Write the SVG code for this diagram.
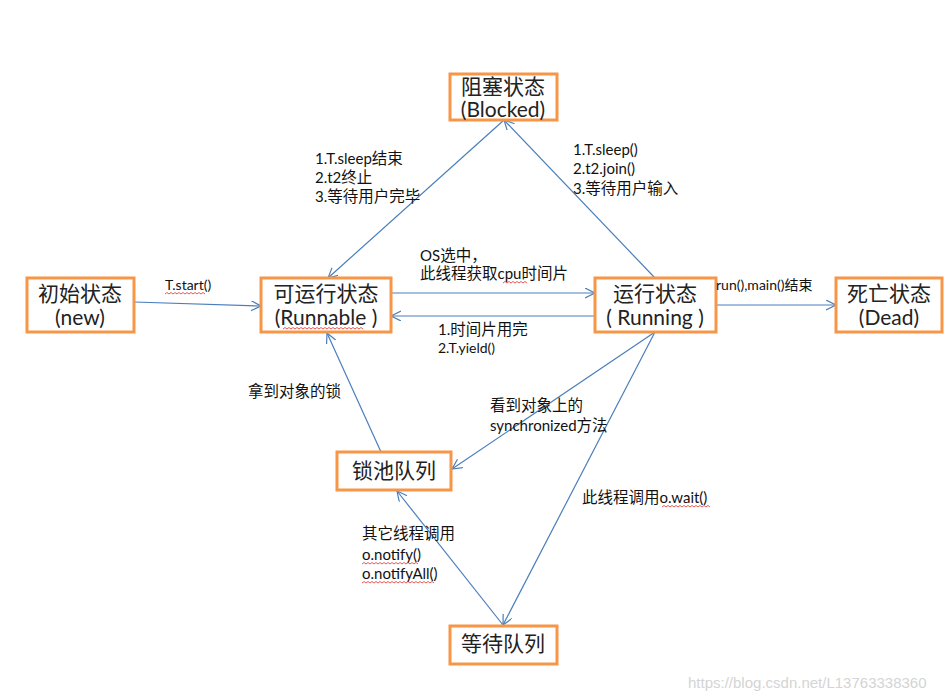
<svg xmlns="http://www.w3.org/2000/svg" width="949" height="700" viewBox="0 0 949 700">
<defs>
<style>
.box{fill:#fff;stroke:#F79646;stroke-width:3}
.nt{font-family:Lato,"Noto Sans CJK SC",sans-serif;font-size:21px;fill:#222;text-anchor:middle}
.lb{font-family:Lato,"Noto Sans CJK SC",sans-serif;font-size:15.5px;fill:#111}
.sm{font-size:14px}
.l{font-size:15px}
.ln{fill:none;stroke:#4A7EBB;stroke-width:1.2;marker-end:url(#ah)}
.sq{fill:none;stroke:#E03030;stroke-width:0.8}
.wm{font-family:"Liberation Sans",sans-serif;font-size:15px;fill:#d4d4d4}
</style>
<marker id="ah" markerUnits="userSpaceOnUse" markerWidth="12" markerHeight="12" refX="10" refY="5" orient="auto" viewBox="0 0 12 12">
<path d="M0,0 L10,5 L0,10" fill="none" stroke="#4A7EBB" stroke-width="1.2"/>
</marker>
</defs>
<rect width="949" height="700" fill="#fff"/>
<g id="connectors">
<path class="ln" d="M134,302 L261,306"/>
<path class="ln" d="M391,293 L595,293"/>
<path class="ln" d="M595,316 L391,316"/>
<path class="ln" d="M716,305 L836,305"/>
<path class="ln" d="M504,120 L328,278"/>
<path class="ln" d="M655,278 L504,120"/>
<path class="ln" d="M381,452 L327,333"/>
<path class="ln" d="M655,332 L452,469"/>
<path class="ln" d="M655,332 L503,625"/>
<path class="ln" d="M503,625 L397,491"/>
</g>
<g id="blocked"><rect class="box" x="450" y="74" width="107" height="46"/><text class="nt" x="503" y="94">阻塞状态</text><text class="nt" x="503" y="117">(Blocked)</text></g>
<g id="new"><rect class="box" x="27" y="278" width="107" height="54"/><text class="nt" x="80" y="301">初始状态</text><text class="nt" x="80" y="325">(new)</text></g>
<g id="runnable"><rect class="box" x="261" y="278" width="130" height="54"/><text class="nt" x="326" y="301">可运行状态</text><text class="nt" x="326" y="325">(Runnable )</text></g>
<g id="running"><rect class="box" x="595" y="278" width="121" height="54"/><text class="nt" x="655" y="301">运行状态</text><text class="nt" x="655" y="325">( Running )</text></g>
<g id="dead"><rect class="box" x="836" y="278" width="106" height="54"/><text class="nt" x="889" y="301">死亡状态</text><text class="nt" x="889" y="325">(Dead)</text></g>
<g id="lockpool"><rect class="box" x="337" y="452" width="114" height="38"/><text class="nt" x="394" y="478">锁池队列</text></g>
<g id="waitqueue"><rect class="box" x="450" y="626" width="107" height="38"/><text class="nt" x="503" y="651">等待队列</text></g>
<g id="labels">
<text class="lb sm" x="165" y="290">T.start()</text>
<text class="lb" x="420" y="261"><tspan class="l">OS</tspan>选中，</text>
<text class="lb" x="420" y="279">此线程获取<tspan class="l">cpu</tspan>时间片</text>
<text class="lb" x="438" y="335"><tspan class="l">1.</tspan>时间片用完</text>
<text class="lb sm" x="438" y="353">2.T.yield()</text>
<text class="lb sm" x="716" y="290">run(),main()结束</text>
<text class="lb" x="315" y="164"><tspan class="l">1.T.sleep</tspan>结束</text>
<text class="lb" x="315" y="183"><tspan class="l">2.t2</tspan>终止</text>
<text class="lb" x="315" y="202"><tspan class="l">3.</tspan>等待用户完毕</text>
<text class="lb l" x="573" y="155">1.T.sleep()</text>
<text class="lb l" x="573" y="174">2.t2.join()</text>
<text class="lb" x="573" y="194"><tspan class="l">3.</tspan>等待用户输入</text>
<text class="lb" x="248" y="397">拿到对象的锁</text>
<text class="lb" x="490" y="411">看到对象上的</text>
<text class="lb" x="490" y="431"><tspan class="l">synchronized</tspan>方法</text>
<text class="lb" x="582" y="503">此线程调用<tspan class="l">o.wait()</tspan></text>
<text class="lb" x="362" y="539">其它线程调用</text>
<text class="lb l" x="362" y="560">o.notify()</text>
<text class="lb l" x="362" y="579">o.notifyAll()</text>
</g>
<g id="squiggles">
<path class="sq" d="M165,294 l2,-1.5 l2,1.5 l2,-1.5 l2,1.5 l2,-1.5 l2,1.5 l2,-1.5 l2,1.5 l2,-1.5 l2,1.5 l2,-1.5 l2,1.5 l2,-1.5 l2,1.5 l2,-1.5 l2,1.5 l2,-1.5 l2,1.5 l2,-1.5 l2,1.5"/>
<path class="sq" d="M283,329 l2,-1.5 l2,1.5 l2,-1.5 l2,1.5 l2,-1.5 l2,1.5 l2,-1.5 l2,1.5 l2,-1.5 l2,1.5 l2,-1.5 l2,1.5 l2,-1.5 l2,1.5 l2,-1.5 l2,1.5 l2,-1.5 l2,1.5 l2,-1.5 l2,1.5 l2,-1.5 l2,1.5 l2,-1.5 l2,1.5 l2,-1.5 l2,1.5 l2,-1.5 l2,1.5 l2,-1.5 l2,1.5 l2,-1.5 l2,1.5 l2,-1.5 l2,1.5 l2,-1.5 l2,1.5 l2,-1.5 l2,1.5 l2,-1.5 l2,1.5"/>
<path class="sq" d="M503,283 l2,-1.5 l2,1.5 l2,-1.5 l2,1.5 l2,-1.5 l2,1.5 l2,-1.5 l2,1.5 l2,-1.5 l2,1.5 l2,-1.5 l2,1.5"/>
<path class="sq" d="M662,507 l2,-1.5 l2,1.5 l2,-1.5 l2,1.5 l2,-1.5 l2,1.5 l2,-1.5 l2,1.5 l2,-1.5 l2,1.5 l2,-1.5 l2,1.5 l2,-1.5 l2,1.5 l2,-1.5 l2,1.5 l2,-1.5 l2,1.5 l2,-1.5 l2,1.5 l2,-1.5 l2,1.5 l2,-1.5 l2,1.5"/>
<path class="sq" d="M362,564 l2,-1.5 l2,1.5 l2,-1.5 l2,1.5 l2,-1.5 l2,1.5 l2,-1.5 l2,1.5 l2,-1.5 l2,1.5 l2,-1.5 l2,1.5 l2,-1.5 l2,1.5 l2,-1.5 l2,1.5 l2,-1.5 l2,1.5 l2,-1.5 l2,1.5 l2,-1.5 l2,1.5 l2,-1.5 l2,1.5 l2,-1.5 l2,1.5 l2,-1.5 l2,1.5"/>
<path class="sq" d="M362,583 l2,-1.5 l2,1.5 l2,-1.5 l2,1.5 l2,-1.5 l2,1.5 l2,-1.5 l2,1.5 l2,-1.5 l2,1.5 l2,-1.5 l2,1.5 l2,-1.5 l2,1.5 l2,-1.5 l2,1.5 l2,-1.5 l2,1.5 l2,-1.5 l2,1.5 l2,-1.5 l2,1.5 l2,-1.5 l2,1.5 l2,-1.5 l2,1.5 l2,-1.5 l2,1.5 l2,-1.5 l2,1.5 l2,-1.5 l2,1.5 l2,-1.5 l2,1.5 l2,-1.5 l2,1.5"/>
</g>
<text class="wm" x="688" y="688">https://blog.csdn.net/L13763338360</text>
</svg>
